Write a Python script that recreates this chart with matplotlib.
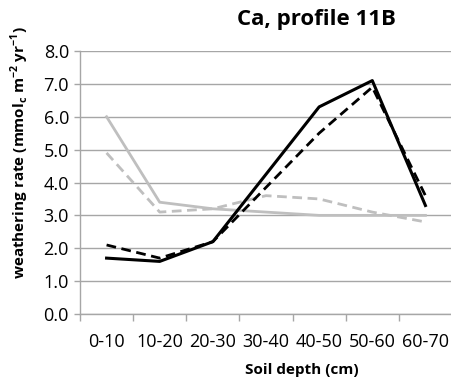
import matplotlib
matplotlib.use("Agg")
import matplotlib.pyplot as plt
import numpy as np

categories = ["0-10", "10-20", "20-30", "30-40", "40-50", "50-60", "60-70"]
black_solid = [1.7, 1.6, 2.2, 4.25, 6.3, 7.1, 3.3]
black_dashed = [2.1, 1.7, 2.2, 3.85, 5.5, 6.9, 3.6]
gray_solid = [6.0, 3.4, 3.2, 3.1, 3.0, 3.0, 3.0]
gray_dashed = [4.9, 3.1, 3.2, 3.6, 3.5, 3.1, 2.8]
yticks = [0, 1, 2, 3, 4, 5, 6, 7, 8]

plt.rcParams['font.family'] = ['Open Sans', 'DejaVu Sans']

fig = plt.figure(figsize=(4.52, 3.85), dpi=100)
ax = fig.add_axes([80/452, 1-314/385, (452-80)/452, (314-51)/385])

x = np.arange(len(categories))
gray = "#bfbfbf"
ax.plot(x, gray_solid, color=gray, lw=2.0, zorder=3)
ax.plot(x, gray_dashed, color=gray, lw=2.0, ls=(0, (3.5, 2)), zorder=3)
ax.plot(x, black_solid, color="black", lw=2.2, zorder=4)
ax.plot(x, black_dashed, color="black", lw=2.0, ls=(0, (3.5, 2)), zorder=4)

ax.set_xlim(-0.5, len(categories) - 0.5)
ax.set_ylim(0, 8)
ax.set_yticks(yticks)
ax.set_yticklabels([f"{v:.1f}" for v in yticks], fontsize=13)
ax.set_xticks(x)
ax.set_xticklabels(categories, fontsize=13)
ax.set_xticks(np.arange(-0.5, len(categories), 1.0), minor=True)
ax.tick_params(axis='x', which='major', length=0, pad=14)
ax.tick_params(axis='x', which='minor', length=5, color="#a6a6a6", width=1)
ax.tick_params(axis='y', length=4, color="#a6a6a6", width=1, pad=4)

ax.grid(axis='y', color="#a6a6a6", lw=1)
ax.set_axisbelow(True)
for s in ["top", "right"]:
    ax.spines[s].set_visible(False)
for s in ["left", "bottom"]:
    ax.spines[s].set_color("#a6a6a6")
    ax.spines[s].set_linewidth(1)

fig.text(316/452, 1-20/385, "Ca, profile 11B", ha="center", va="center",
         fontsize=16, fontweight="bold")
fig.text(302/452, 1-370/385, "Soil depth (cm)", ha="center", va="center",
         fontsize=11, fontweight="bold")
fig.text(20/452, 1-153/385, r"weathering rate (mmol$_\mathregular{c}$ m$^{\mathregular{-2}}$ yr$^{\mathregular{-1}}$)",
         ha="center", va="center", rotation=90, fontsize=11, fontweight="bold")

fig.savefig("out.png", dpi=100)
